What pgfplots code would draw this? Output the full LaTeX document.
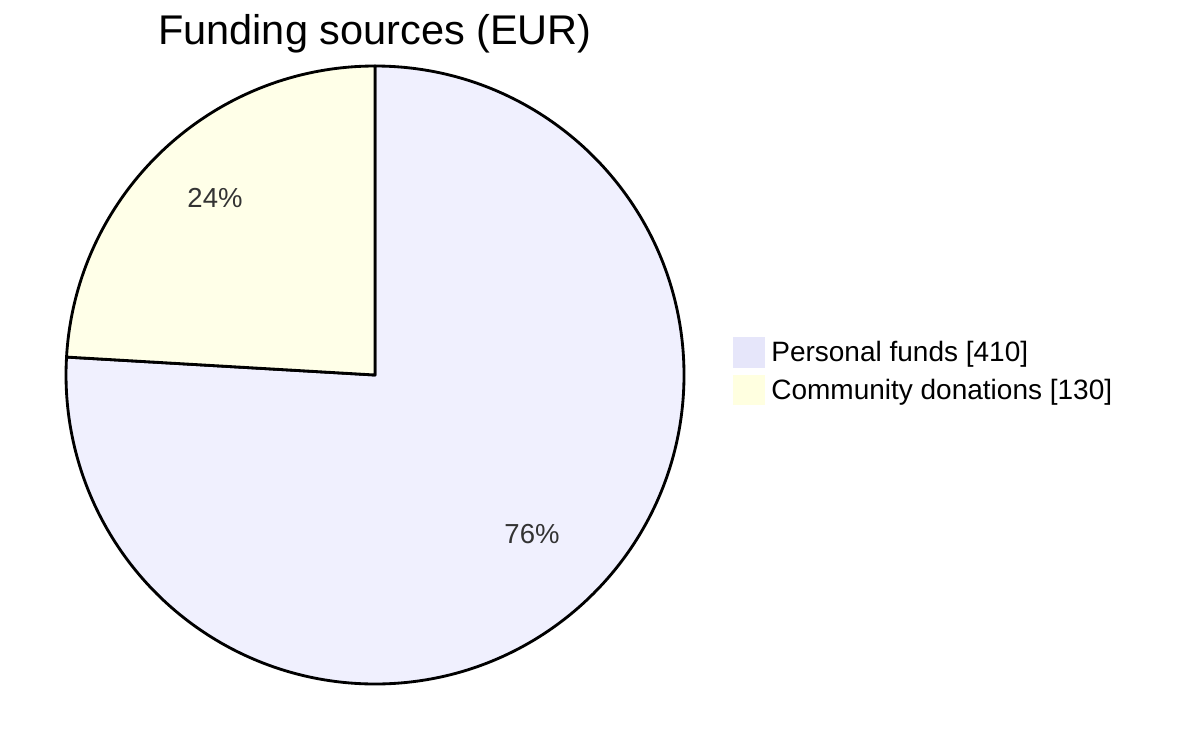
\documentclass[border=0pt]{standalone}
\usepackage{pgfplots}
\pgfplotsset{compat=1.18}
\usepackage{fontspec}
\setmainfont{Liberation Sans}
\definecolor{pfund}{HTML}{F0F0FE}
\definecolor{pfundleg}{HTML}{E6E6FA}
\definecolor{cdon}{HTML}{FFFFE8}
\definecolor{cdonleg}{HTML}{FFFFE0}
\definecolor{pcttext}{HTML}{333333}
\begin{document}
\begin{tikzpicture}
\pgfmathsetmacro\va{410}
\pgfmathsetmacro\vb{130}
\pgfmathsetmacro\tot{\va+\vb}
\pgfmathsetmacro\angA{90-360*(\va/\tot)}
\pgfmathsetmacro\angB{\angA-360*(\vb/\tot)}
\def\R{185.4pt}
\begin{axis}[
  width=720pt, height=449.4pt, scale only axis,
  xmin=0, xmax=1200, ymin=0, ymax=749,
  hide axis, clip=false,
]
\fill[white] (axis cs:0,0) rectangle (axis cs:1200,749);
% Personal funds slice
\filldraw[fill=pfund, draw=black, line width=1.7pt, line join=round]
  (axis cs:375,374) -- ++(90:\R) arc[start angle=90, end angle=\angA, radius=\R] -- cycle;
% Community donations slice
\filldraw[fill=cdon, draw=black, line width=1.7pt, line join=round]
  (axis cs:375,374) -- ++(\angA:\R) arc[start angle=\angA, end angle=\angB, radius=\R] -- cycle;
% percentage labels
\node[text=pcttext, font=\fontsize{16.5}{19}\selectfont] at (axis cs:215,551) {24\%};
\node[text=pcttext, font=\fontsize{16.5}{19}\selectfont] at (axis cs:532,215) {76\%};
% title
\node[anchor=base, font=\fontsize{24.9}{29}\selectfont] at (axis cs:375,704) {Funding sources (EUR)};
% legend
\fill[pfundleg] (axis cs:733,412) rectangle (axis cs:765,381);
\fill[cdonleg] (axis cs:733,374) rectangle (axis cs:765,344);
\node[anchor=base west, inner sep=0pt, font=\fontsize{16.8}{20}\selectfont] at (axis cs:771,388) {Personal funds [410]};
\node[anchor=base west, inner sep=0pt, font=\fontsize{16.8}{20}\selectfont] at (axis cs:771,350) {Community donations [130]};
\end{axis}
\end{tikzpicture}
\end{document}
